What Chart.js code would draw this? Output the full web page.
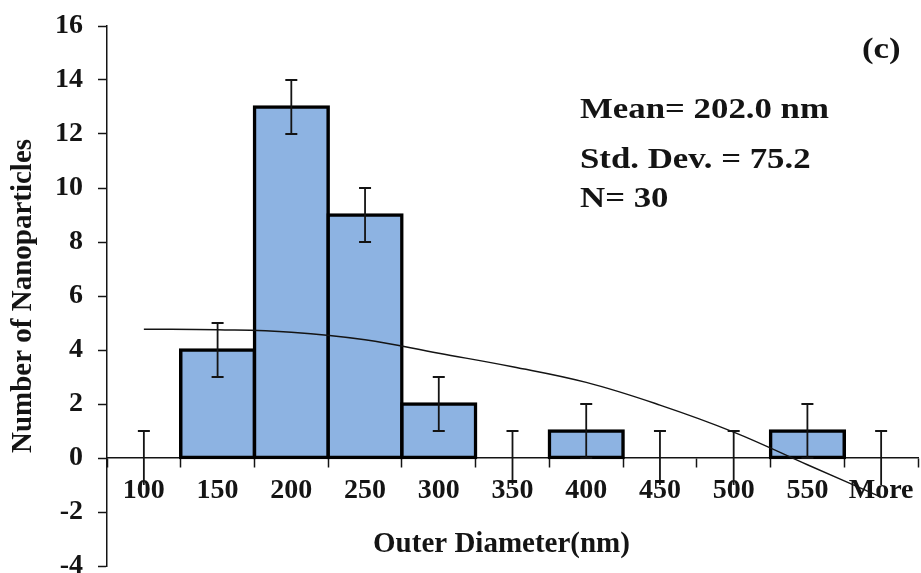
<!DOCTYPE html>
<html>
<head>
<meta charset="utf-8">
<title>Outer diameter distribution</title>
<script src="https://cdn.jsdelivr.net/npm/chart.js@4.4.1/dist/chart.umd.min.js"></script>
<style>
  html, body { margin: 0; padding: 0; background: #ffffff; }
  #wrap { width: 921px; height: 573px; }
</style>
</head>
<body>
<div id="wrap"><canvas id="chart" width="921" height="573"></canvas></div>
<script>
// Histogram bins (nm) and counts
const categories = ['100', '150', '200', '250', '300', '350', '400', '450', '500', '550', 'More'];
const counts = [0, 4, 13, 9, 2, 0, 1, 0, 0, 1, 0];
// Symmetric error bar half-lengths per bin
const errorSize = [1, 1, 1, 1, 1, 1, 1, 1, 1, 1, 1];
// Fitted trend curve evaluated at each bin
const fitCurve = [4.77, 4.75, 4.66, 4.38, 3.88, 3.38, 2.8, 1.96, 0.96, -0.25, -1.45];
// Value axis range and step
const yMin = -4;
const yMax = 16;
const yStep = 2;
// Text labels
const xTitle = 'Outer Diameter(nm)';
const yTitle = 'Number of Nanoparticles';
const panelTag = '(c)';
const statLines = ['Mean= 202.0 nm', 'Std. Dev. = 75.2', 'N= 30'];

const SERIF = "'Liberation Serif', 'Times New Roman', serif";
const INK = '#141414';
const BAR_FILL = '#8DB3E2';
const BAR_EDGE = 3.5;

// Error bars drawn over the bars
const errorBarPlugin = {
  id: 'errorBars',
  afterDatasetsDraw(chart) {
    const { ctx, scales: { x, y } } = chart;
    ctx.save();
    ctx.strokeStyle = INK;
    ctx.lineWidth = 1.8;
    const cap = 6;
    counts.forEach((v, i) => {
      const px = x.getPixelForValue(i);
      const hi = v + errorSize[i];
      const lo = v - errorSize[i];
      const yHi = y.getPixelForValue(hi);
      const yLo = y.getPixelForValue(lo);
      ctx.beginPath();
      ctx.moveTo(px, yHi);
      ctx.lineTo(px, yLo);
      ctx.moveTo(px - cap, yHi);
      ctx.lineTo(px + cap, yHi);
      if (lo >= 0) {
        ctx.moveTo(px - cap, yLo);
        ctx.lineTo(px + cap, yLo);
      }
      ctx.stroke();
    });
    ctx.restore();
  }
};

// Axis title under the category labels, panel tag and summary statistics
const textPlugin = {
  id: 'annotText',
  afterDraw(chart) {
    const { ctx, chartArea } = chart;
    ctx.save();
    ctx.fillStyle = INK;
    ctx.textBaseline = 'alphabetic';

    ctx.font = 'bold 29px ' + SERIF;
    ctx.textAlign = 'center';
    ctx.fillText(xTitle, (chartArea.left + chartArea.right) / 2 - 11, chartArea.bottom - 14);

    const stretch = 1.2;
    const drawStretched = (text, x, y) => {
      ctx.save();
      ctx.translate(x, y);
      ctx.scale(stretch, 1);
      ctx.fillText(text, 0, 0);
      ctx.restore();
    };
    ctx.font = 'bold 29px ' + SERIF;
    ctx.textAlign = 'left';
    drawStretched(panelTag, chartArea.right - 56, chartArea.top + 32);
    const baselines = [92, 142, 181];
    statLines.forEach((t, i) => drawStretched(t, 580, chartArea.top + baselines[i]));
    ctx.restore();
  }
};

const isZero = (c) => c.raw === 0;

new Chart(document.getElementById('chart'), {
  type: 'bar',
  data: {
    labels: categories,
    datasets: [
      {
        type: 'line',
        data: fitCurve,
        borderColor: INK,
        borderWidth: 1.4,
        pointRadius: 0,
        fill: false,
        tension: 0.4,
        order: 1
      },
      {
        type: 'bar',
        data: counts,
        backgroundColor: (c) => isZero(c) ? 'rgba(0,0,0,0)' : BAR_FILL,
        borderColor: '#000000',
        borderWidth: (c) => isZero(c) ? 0 : BAR_EDGE,
        inflateAmount: (c) => isZero(c) ? 0 : BAR_EDGE / 2,
        borderSkipped: false,
        barPercentage: 1,
        categoryPercentage: 1,
        order: 2
      }
    ]
  },
  options: {
    responsive: false,
    animation: false,
    devicePixelRatio: 1,
    layout: { padding: { top: 26, right: 3, bottom: 7, left: 0 } },
    plugins: {
      legend: { display: false },
      tooltip: { enabled: false }
    },
    scales: {
      x: {
        position: { y: 0 },
        offset: true,
        grid: {
          display: true,
          offset: true,
          drawOnChartArea: false,
          drawTicks: true,
          tickLength: 9,
          tickWidth: 1.5,
          tickColor: INK
        },
        border: { display: true, color: INK, width: 1.5 },
        ticks: {
          color: INK,
          font: { family: SERIF, size: 28, weight: 'bold' },
          padding: 7,
          maxRotation: 0,
          autoSkip: false
        },
        afterFit: (s) => {
          s.height = 0;
          s.paddingLeft = 0;
          s.paddingRight = 0;
          s.paddingTop = 0;
          s.paddingBottom = 0;
        }
      },
      y: {
        min: yMin,
        max: yMax,
        grid: {
          display: true,
          drawOnChartArea: false,
          drawTicks: true,
          tickLength: 9,
          tickWidth: 1.5,
          tickColor: INK
        },
        border: { display: true, color: INK, width: 1.5 },
        ticks: {
          stepSize: yStep,
          color: INK,
          font: { family: SERIF, size: 28, weight: 'bold' },
          padding: 15
        },
        title: {
          display: true,
          text: yTitle,
          color: INK,
          font: { family: SERIF, size: 29, weight: 'bold' },
          padding: { top: 6, bottom: 0 }
        },
        afterFit: (s) => {
          s.width = 107;
          s.paddingTop = 0;
          s.paddingBottom = 0;
        }
      }
    }
  },
  plugins: [errorBarPlugin, textPlugin]
});
</script>
</body>
</html>
